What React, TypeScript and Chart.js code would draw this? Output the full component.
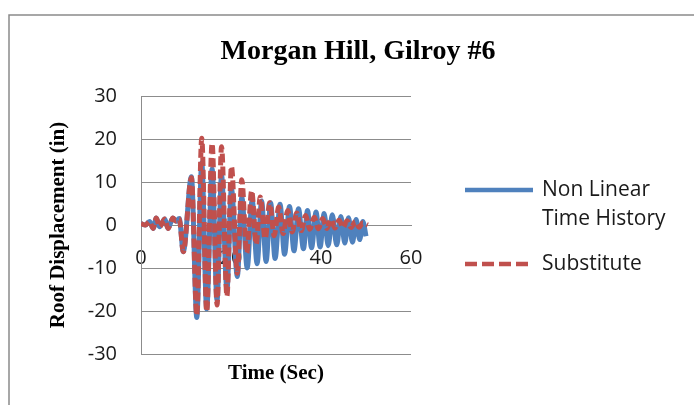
import React, { useEffect, useRef } from "react";
import { Chart, registerables } from "chart.js";

Chart.register(...registerables);

// ---- Data ----
const chartTitle = "Morgan Hill, Gilroy #6";
const xAxisTitle = "Time (Sec)";
const yAxisTitle = "Roof Displacement (in)";
const seriesNames = ["Non Linear Time History", "Substitute"];
const legendLines = [["Non Linear", "Time History"], ["Substitute"]];

const nlthTime = [
  0, 1.0, 1.9, 2.7, 3.4, 4.1, 5.3, 6.0, 7.1, 7.8, 8.5, 9.4, 11.2, 12.4, 13.5, 14.6, 15.8,
  16.9, 17.9, 19.1, 20.1, 21.4, 22.4, 23.6, 24.7, 25.8, 26.8, 27.8, 28.8, 29.8, 30.9,
  31.9, 33.0, 34.0, 35.0, 36.1, 37.0, 37.9, 38.9, 39.8, 40.7, 41.6, 42.5, 43.5, 44.4,
  45.3, 46.1, 47.0, 47.8, 48.6, 49.3, 50.0,
];
const nlthDisp = [
  0.3, 0.0, 0.8, -0.8, 1.6, -0.4, 1.4, -0.8, 1.6, 0.9, 1.5, -6.2, 11.2, -21.5, 14.5, -19.5, 13.0,
  -17.5, 11.5, -15.0, 8.5, -12.0, 6.5, -10.0, 5.8, -9.0, 5.6, -8.5, 5.2, -7.8, 4.8,
  -6.8, 4.3, -6.0, 3.8, -5.5, 3.4, -5.3, 3.0, -5.1, 2.7, -4.8, 2.4, -4.6, 2.0,
  -4.2, 1.7, -4.0, 1.3, -3.4, 0.8, -2.6,
];

const subTime = [
  0, 1.0, 1.9, 2.7, 3.4, 4.1, 5.3, 6.0, 7.1, 7.8, 8.5, 9.4, 11.2, 12.4, 13.5, 14.6, 15.8,
  16.9, 17.9, 19.1, 20.1, 21.4, 22.4, 23.5, 24.6, 25.6, 26.5, 27.6, 28.6, 29.6, 30.6,
  31.6, 32.6, 33.6, 34.6, 35.6, 36.6, 37.5, 38.5, 39.4, 40.4, 41.3, 42.2, 43.1, 44.0,
  44.9, 45.8, 46.7, 47.6, 48.5, 49.3, 50.4,
];
const subDisp = [
  0.3, 0.0, 0.8, -0.8, 1.6, -0.4, 1.4, -0.8, 1.6, 0.9, 1.5, -6.2, 11.0, -21.0, 20.2, -20.1, 19.0,
  -18.6, 18.2, -16.5, 13.6, -11.2, 10.5, -6.5, 8.0, -4.5, 6.5, -3.2, 5.2, -2.5, 4.2,
  -2.0, 3.4, -1.6, 2.8, -1.3, 2.2, -1.0, 1.8, -0.9, 1.5, -0.8, 1.3, -0.7, 1.1,
  -0.6, 1.0, -0.6, 0.8, -0.5, 0.5, 0.0,
];

const xMin = 0, xMax = 60, xStep = 20;
const yMin = -30, yMax = 30, yStep = 10;

const BLUE = "#4F81BD";
const RED = "#C0504D";
const GRID = "#8c8c8c";
const SANS = "'Open Sans', 'Liberation Sans', sans-serif";
const SERIF = "'Liberation Serif', 'DejaVu Serif', serif";

const decorPlugin = {
  id: "decor",
  beforeDraw(chart: any) {
    const ctx = chart.ctx;
    ctx.save();
    ctx.fillStyle = "#ffffff";
    ctx.fillRect(0, 0, chart.width, chart.height);
    ctx.strokeStyle = "#8a8a8a";
    ctx.lineWidth = 1.5;
    ctx.beginPath();
    ctx.moveTo(9, chart.height);
    ctx.lineTo(9, 15);
    ctx.lineTo(chart.width, 15);
    ctx.stroke();
    ctx.restore();
  },
  afterDraw(chart: any) {
    const ctx = chart.ctx;
    const area = chart.chartArea;
    ctx.save();
    ctx.fillStyle = "#000000";
    // title
    ctx.font = `bold 28px ${SERIF}`;
    ctx.textAlign = "center";
    ctx.textBaseline = "alphabetic";
    ctx.fillText(chartTitle, 358, 59);
    // x axis title
    ctx.font = `bold 21px ${SERIF}`;
    ctx.fillText(xAxisTitle, (area.left + area.right) / 2, 379);
    // y axis title
    ctx.save();
    ctx.translate(64, (area.top + area.bottom) / 2);
    ctx.rotate(-Math.PI / 2);
    ctx.fillText(yAxisTitle, 0, 0);
    ctx.restore();
    // legend
    const lx0 = 465, lx1 = 533, tx = 542;
    ctx.lineWidth = 4.5;
    ctx.lineCap = "butt";
    ctx.strokeStyle = BLUE;
    ctx.setLineDash([]);
    ctx.beginPath();
    ctx.moveTo(lx0, 190);
    ctx.lineTo(lx1, 190);
    ctx.stroke();
    ctx.strokeStyle = RED;
    ctx.setLineDash([12, 5]);
    ctx.beginPath();
    ctx.moveTo(lx0, 264);
    ctx.lineTo(lx1, 264);
    ctx.stroke();
    ctx.setLineDash([]);
    ctx.font = `21px ${SANS}`;
    ctx.textAlign = "left";
    ctx.textBaseline = "middle";
    ctx.fillStyle = "#1a1a1a";
    ctx.fillText(legendLines[0][0], tx, 190);
    ctx.fillText(legendLines[0][1], tx, 219);
    ctx.fillText(legendLines[1][0], tx, 264);
    ctx.restore();
  },
};

export default function App() {
  const ref = useRef<HTMLCanvasElement | null>(null);

  useEffect(() => {
    if (!ref.current) return;
    const nlthData = nlthTime.map((t, i) => ({ x: t, y: nlthDisp[i] }));
    const subData = subTime.map((t, i) => ({ x: t, y: subDisp[i] }));
    const chart = new Chart(ref.current, {
      type: "line",
      data: {
        datasets: [
          {
            label: seriesNames[0],
            data: nlthData,
            borderColor: BLUE,
            backgroundColor: BLUE,
            borderWidth: 5,
            pointRadius: 0,
            cubicInterpolationMode: "monotone",
            order: 2,
          },
          {
            label: seriesNames[1],
            data: subData,
            borderColor: RED,
            backgroundColor: RED,
            borderWidth: 5,
            borderDash: [9, 4],
            pointRadius: 0,
            cubicInterpolationMode: "monotone",
            order: 1,
          },
        ],
      },
      options: {
        responsive: false,
        devicePixelRatio: 1,
        animation: false,
        layout: { padding: { left: 0, top: 96, right: 283, bottom: 51 } },
        plugins: {
          legend: { display: false },
          title: { display: false },
          tooltip: { enabled: false },
        },
        scales: {
          x: {
            type: "linear",
            min: xMin,
            max: xMax,
            position: { y: 0 } as any,
            grid: { display: false, drawTicks: false },
            border: { display: true, color: GRID, width: 1 },
            ticks: {
              stepSize: xStep,
              padding: 21,
              color: "#1a1a1a",
              font: { family: SANS, size: 20 },
              maxRotation: 0,
            },
          },
          y: {
            type: "linear",
            min: yMin,
            max: yMax,
            grid: { color: GRID, lineWidth: 1, drawTicks: false },
            border: { display: true, color: GRID, width: 1 },
            ticks: {
              stepSize: yStep,
              padding: 24,
              color: "#1a1a1a",
              font: { family: SANS, size: 20 },
            },
            afterFit: (scale: any) => {
              scale.width = 141;
            },
          },
        },
      },
      plugins: [decorPlugin],
    });
    return () => chart.destroy();
  }, []);

  return (
    <div style={{ position: "fixed", left: 0, top: 0, width: 694, height: 405 }}>
      <canvas ref={ref} width={694} height={405} style={{ display: "block" }} />
    </div>
  );
}
